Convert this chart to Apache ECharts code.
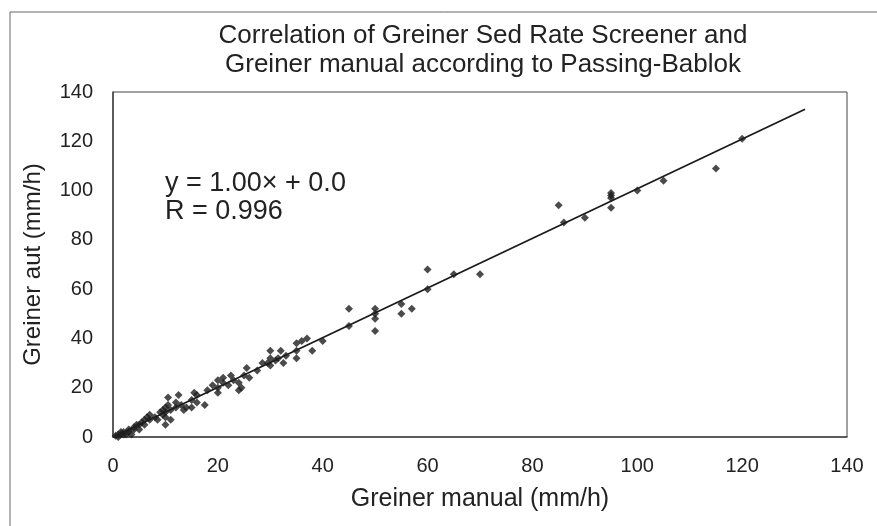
<!DOCTYPE html>
<html>
<head>
<meta charset="utf-8">
<script src="https://cdn.jsdelivr.net/npm/echarts@6/dist/echarts.min.js"></script>
<style>html,body{margin:0;padding:0;background:#fff;}#c{width:877px;height:526px;}</style>
</head>
<body>
<div id="c"></div>
<script>
// Greiner manual (x) vs Greiner aut (y), mm/h
const manual = [0.5,1,1,1.5,1.5,2,2,2.5,3,3,3.5,4,4,4.5,5,5,5.5,6,6,6.5,7,7,8,8.5,9,9.5,9.5,10,10,10,10.5,10.5,10,11,11,12,12,12.5,13,13.5,14,15,15,15.5,16,16,17.5,18,19,20,20,20,21,21,22,22.5,23,24,24,24.5,25,25.5,26,27.5,28.5,29.5,30,30,30,31,31.5,32.5,32,33,35,35,35,36,37,38,40,45,45,50,50,50,50,55,55,57,60,60,65,70,85,86,90,95,95,95,95,100,105,115,120];
const aut    = [0.5,1,0,2,1,2,1,1,3,2,1,3,4,5,5,3,6,7,5,8,9,7,8,7,10,9,11,8,10,12,13,16,5,11,7,12,14,17,13,11,12,15,12,18,17,14,13,19,21,20,18,23,22,24,21,25,23,22,19,20,25,28,24,27,30,30,29,32,35,31,32,30,35,33,35,38,32,39,40,35,39,45,52,50,48,43,52,54,50,52,60,68,66,66,94,87,89,93,97,98,99,100,104,109,121];
const fitX = [0, 132];
const fitY = [0, 133];
const xTicks = [0,20,40,60,80,100,120,140];
const yTicks = [0,20,40,60,80,100,120,140];
const titleLines = ['Correlation of Greiner Sed Rate Screener and','Greiner manual according to Passing-Bablok'];
const eqLines = ['y = 1.00\u00d7 + 0.0','R = 0.996'];
const xName = 'Greiner manual (mm/h)';
const yName = 'Greiner aut (mm/h)';

const pts = manual.map((x,i)=>[x, aut[i]]);
const fit = fitX.map((x,i)=>[x, fitY[i]]);
const FONT = '"Liberation Sans", Arial, sans-serif';
const chart = echarts.init(document.getElementById('c'), null, {renderer:'canvas'});
chart.setOption({
  animation:false,
  backgroundColor:'#fff',
  title:{
    text: titleLines.join('\n'),
    left: 478, textAlign:'center', top: 16,
    textStyle:{fontFamily:FONT, fontSize:26, fontWeight:'normal', color:'#222', lineHeight:29}
  },
  graphic:[
    {type:'line', shape:{x1:10,y1:12,x2:877,y2:12}, style:{stroke:'#666',lineWidth:1}},
    {type:'line', shape:{x1:10,y1:12,x2:10,y2:526}, style:{stroke:'#666',lineWidth:1}},
    {type:'text', left:165, top:170, style:{text:eqLines.join('\n'), font:'27px '+FONT, fill:'#222', lineHeight:28}}
  ],
  grid:{left:113, right:30, top:92, bottom:89, show:true, borderColor:'#444', borderWidth:1, backgroundColor:'#fff'},
  xAxis:{
    type:'value', min:0, max:140, interval:20,
    name:xName, nameLocation:'middle', nameGap:50,
    nameTextStyle:{fontFamily:FONT, fontSize:25, color:'#222'},
    axisLine:{show:true, lineStyle:{color:'#444', width:1.5}},
    axisTick:{show:false}, splitLine:{show:false},
    axisLabel:{fontFamily:FONT, fontSize:20, color:'#222', margin:19,
      formatter:v=> xTicks.includes(v)? String(v):''}
  },
  yAxis:{
    type:'value', min:0, max:140, interval:20,
    name:yName, nameLocation:'middle', nameGap:68,
    nameTextStyle:{fontFamily:FONT, fontSize:24, color:'#222'},
    axisLine:{show:true, lineStyle:{color:'#444', width:1.5}},
    axisTick:{show:false}, splitLine:{show:false},
    axisLabel:{fontFamily:FONT, fontSize:20, color:'#222', margin:20,
      formatter:v=> yTicks.includes(v)? String(v):''}
  },
  series:[
    {type:'line', data:fit, symbol:'none', lineStyle:{color:'#1a1a1a', width:1.8}, z:3, silent:true},
    {type:'scatter', data:pts, symbol:'diamond', symbolSize:8, itemStyle:{color:'#1e1e1e'}, z:4}
  ]
});
</script>
</body>
</html>
